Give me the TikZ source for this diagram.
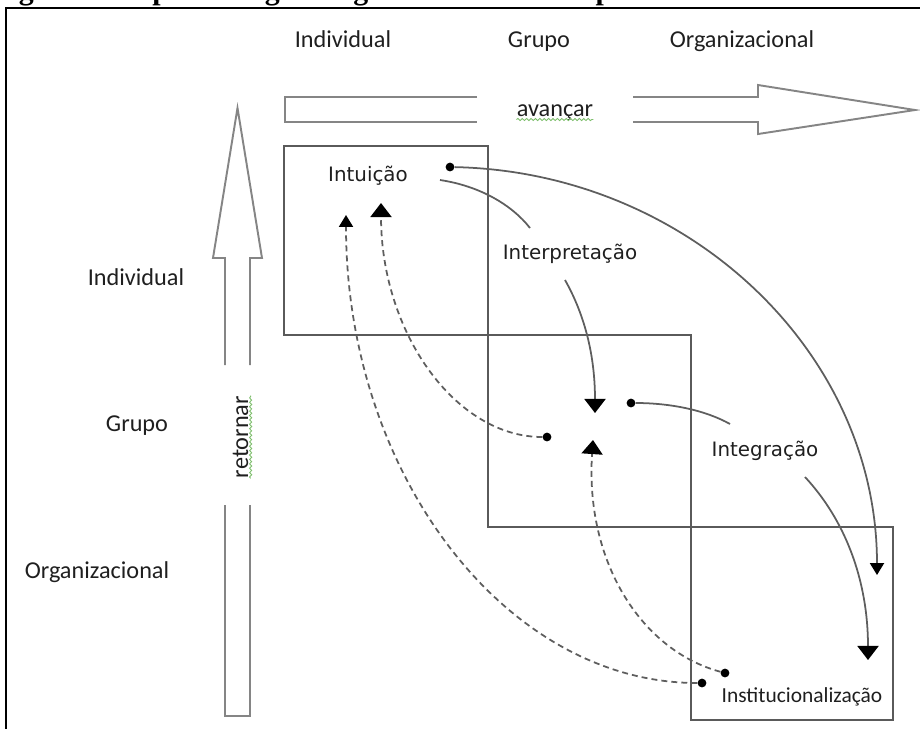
\documentclass[tikz,border=0pt]{standalone}
\usepackage{fontspec}
\setmainfont{Carlito}
\newfontfamily\procfont{DejaVu Sans}
\newfontfamily\titlefont{Liberation Serif}
\usetikzlibrary{arrows.meta}
\usetikzlibrary{decorations.pathmorphing}
\definecolor{boxgray}{HTML}{5A5A5A}
\definecolor{arrgray}{HTML}{858585}
\definecolor{linegray}{HTML}{5E5E5E}
\definecolor{spellgreen}{HTML}{7DBE6B}
\tikzset{
  lvl/.style={font=\fontsize{13.8}{16}\selectfont, text=black!88, inner sep=0pt, anchor=base},
  proc/.style={font=\procfont\fontsize{11.3}{13}\selectfont, text=black!88, inner sep=0pt, anchor=base},
  box/.style={draw=boxgray, line width=1.1pt},
  block/.style={draw=arrgray, line width=1.1pt, line join=miter},
  flow/.style={draw=linegray, line width=1pt},
  feedback/.style={flow, dash pattern=on 3.4pt off 2.3pt},
  bigtip/.style={-{Triangle[length=8pt,width=12pt,color=black]}},
  smalltip/.style={-{Triangle[length=6.8pt,width=8pt,color=black]}},
  blob/.style={circle, fill=black, inner sep=0pt, minimum size=5pt},
  squiggle/.style={draw=spellgreen, line width=0.5pt, decorate,
    decoration={snake, amplitude=0.6pt, segment length=2.5pt}}
}
\begin{document}
\begin{tikzpicture}[x=0.02cm, y=-0.02cm]
    \useasboundingbox (0,0) rectangle (920,728);
    \clip (0,0) rectangle (920,728);
    \node [anchor=base west, inner sep=0pt, font=\titlefont\bfseries\fontsize{17}{20}\selectfont] (title) at (-8,-1) {Figura 1 – Aprendizagem organizacional como processo dinâmico};
    \draw [line width=1.6pt] (6,760) -- (6,8) -- (940,8);

    \node [lvl] (indTop) at (343,47) {Individual};
    \node [lvl] (grpTop) at (539,47) {Grupo};
    \node [lvl] (orgTop) at (742,47) {Organizacional};
    \node [lvl] (indLeft) at (136,285) {Individual};
    \node [lvl] (grpLeft) at (137,431) {Grupo};
    \node [lvl] (orgLeft) at (97,578) {Organizacional};

    \draw [block] (477,97) -- (285,97) -- (285,122) -- (477,122);
    \draw [block] (633,97) -- (758,97) -- (758,85) -- (915,110) -- (758,134) -- (758,122) -- (633,122);
    \node [lvl] (avancar) at (555,116) {avançar};
    \draw [squiggle] ([yshift=-2pt]avancar.base west) -- ([yshift=-2pt]avancar.base east);

    \draw [block] (225,365) -- (225,258) -- (213,258) -- (237.5,108) -- (262,258) -- (250,258) -- (250,365);
    \draw [block] (225,505) -- (225,716) -- (250,716) -- (250,505);
    \node [lvl, rotate=90] (retornar) at (248,437) {retornar};
    \draw [squiggle] ([xshift=1.5pt]retornar.base west) -- ([xshift=1.5pt]retornar.base east);

    \draw [box] (284,146) rectangle (488,335);
    \draw [box] (488,335) rectangle (691,527);
    \draw [box] (691,527) rectangle (893,720);

    \node [proc] (intuicao) at (368,181) {Intuição};
    \node [proc] (interp) at (570,259) {Interpretação};
    \node [proc] (integ) at (765,456) {Integração};
    \node [lvl, font=\fontsize{12.2}{14}\selectfont] (instit) at (802,702) {Institucionalização};

    \node [blob] (dotA) at (450,167) {};
    \node [blob] (dotB) at (631,403) {};
    \node [blob] (dotC) at (547,437) {};
    \node [blob] (dotD) at (725,673) {};
    \node [blob] (dotE) at (702,683) {};

    \coordinate (intOut) at (440,180);
    \coordinate (interpIn) at (530,228);
    \coordinate (interpOut) at (565,280);
    \coordinate (integIn) at (730,424);
    \coordinate (integOut) at (805,477);
    \coordinate (tipA) at (877,575);
    \coordinate (tipB) at (595,413);
    \coordinate (tipC) at (868,660);
    \coordinate (tipD) at (346,215);
    \coordinate (tipE) at (381,203);
    \coordinate (tipF) at (593,440);

    \draw [flow] (intOut) .. controls (480,186) and (512,205) .. (interpIn);
    \draw [flow, bigtip] (interpOut) .. controls (582,310) and (595,350) .. (tipB);
    \draw [flow] (dotB) .. controls (670,403) and (705,410) .. (integIn);
    \draw [flow, bigtip] (integOut) .. controls (845,520) and (868,580) .. (tipC);
    \draw [flow, smalltip] (dotA) .. controls (686,172) and (877,350) .. (tipA);

    \draw [feedback, smalltip] (dotE) .. controls (505,683) and (346,473) .. (tipD);
    \draw [feedback, bigtip] (dotC) .. controls (455,437) and (381,332) .. (tipE);
    \draw [feedback, bigtip] (dotD) .. controls (640,650) and (585,560) .. (tipF);
\end{tikzpicture}
\end{document}
